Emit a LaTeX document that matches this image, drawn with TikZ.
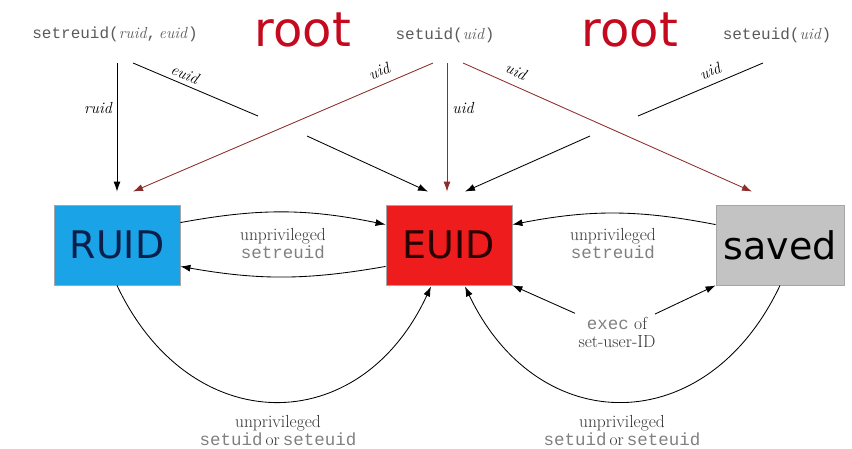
\documentclass[tikz,border=0pt]{standalone}
\usepackage{fontspec}
\setmonofont{Liberation Mono}
\newfontfamily\boxfont{DejaVu Sans}
\definecolor{ruidBlue}{HTML}{1AA3E6}
\definecolor{euidRed}{HTML}{EE1C1C}
\definecolor{savedGray}{HTML}{C3C3C3}
\definecolor{rootRed}{HTML}{C5091E}
\definecolor{uidLine}{HTML}{8E2B2B}
\definecolor{callGray}{HTML}{5A5A5A}
\definecolor{noteGray}{HTML}{333333}
\usetikzlibrary{arrows.meta,calc}

\begin{document}
\begin{tikzpicture}[x=1pt, y=-1pt, line width=0.85pt,
    idbox/.style={draw=gray!70, minimum width=126pt, minimum height=80pt, inner sep=0pt,
      font=\boxfont\fontsize{38}{40}\selectfont},
    rootlbl/.style={text=rootRed, font=\boxfont\fontsize{48}{50}\selectfont},
    call/.style={text=callGray, font=\fontsize{16}{18}\selectfont\ttfamily},
    lbl/.style={inner sep=1pt, font=\fontsize{16}{18}\selectfont\itshape},
    note/.style={align=center, text=noteGray, font=\fontsize{17.5}{21}\selectfont},
    arr/.style={-{Latex[length=10pt,width=7pt]}},
    rootarr/.style={arr, draw=uidLine}]
  \useasboundingbox (0,0) rectangle (852,448);
  % the three IDs
  \node[idbox, fill=ruidBlue, text={rgb,255:red,11;green,31;blue,74}] (ruid) at (117,245) {RUID};
  \node[idbox, fill=euidRed, text={rgb,255:red,40;green,0;blue,0}] (euid) at (449,245) {EUID};
  \node[idbox, fill=savedGray, minimum width=128pt] (saved) at (780,245) {saved};
  % calls along the top
  \node[call] (setreuid) at (115,34) {setreuid(\textrm{\itshape ruid},\,\textrm{\itshape euid})};
  \node[rootlbl] (rootA) at (303,30) {root};
  \node[call] (setuid) at (445,35) {setuid(\textrm{\itshape uid})};
  \node[rootlbl] (rootB) at (630,30) {root};
  \node[call] (seteuid) at (777,35) {seteuid(\textrm{\itshape uid})};
  % free ends under the calls
  \coordinate (sr-r) at (117,63);
  \coordinate (sr-e) at (133,63);
  \coordinate (sr-gapA) at (258,116);
  \coordinate (sr-gapB) at (307,136);
  \coordinate (su-l) at (433,63);
  \coordinate (su-m) at (447,63);
  \coordinate (su-r) at (463,63);
  \coordinate (se-u) at (763,63);
  \coordinate (se-gapA) at (638,116);
  \coordinate (se-gapB) at (590,136);
  % setreuid
  \draw[arr] (sr-r) -- ($(ruid.north)+(0,-13)$);
  \node[lbl] (ruid-lbl) at (98,108) {ruid};
  \draw (sr-e) -- (sr-gapA);
  \node[lbl, rotate=-23] (euid-lbl) at (185,74) {euid};
  \draw[arr] (sr-gapB) -- ($(euid.north)+(-21,-13)$);
  % setuid as root
  \draw[rootarr] (su-l) -- ($(ruid.north)+(16,-13)$);
  \node[lbl, rotate=23] (uid-a) at (379,71) {uid};
  \draw[rootarr] (su-m) -- ($(euid.north)+(-2,-13)$);
  \node[lbl] (uid-b) at (463,108) {uid};
  \draw[rootarr] (su-r) -- ($(saved.north)+(-28,-13)$);
  \node[lbl, rotate=-24] (uid-c) at (516,71) {uid};
  % seteuid
  \draw (se-u) -- (se-gapA);
  \node[lbl, rotate=23] (uid-d) at (710,71) {uid};
  \draw[arr] (se-gapB) -- ($(euid.north)+(16,-13)$);
  % unprivileged setreuid
  \draw[arr] ($(ruid.north east)+(0,18)$) to[bend left=11] ($(euid.north west)+(0,20)$);
  \draw[arr] ($(euid.south west)+(0,-19)$) to[bend left=10] ($(ruid.south east)+(0,-19)$);
  \node[note] (ru-eu) at (283,244) {unprivileged\\[-3pt]{\color{gray}\ttfamily setreuid}};
  \draw[arr] ($(saved.north west)+(0,20)$) to[bend right=11] ($(euid.north east)+(0,20)$);
  \node[note] (sv-eu) at (613,244) {unprivileged\\[-3pt]{\color{gray}\ttfamily setreuid}};
  % exec of a set-user-ID program
  \node[note] (exec) at (617,332) {{\color{gray}\ttfamily exec} of\\[-3pt]set-user-ID};
  \draw[arr, shorten <=46pt] (exec.center) -- (euid.south east);
  \draw[arr, shorten <=42pt] (exec.center) -- (saved.south west);
  % unprivileged setuid / seteuid
  \draw[arr] (ruid.south) .. controls (190,440) and (360,440) .. ($(euid.south)+(-18,1)$);
  \node[note] (ru-low) at (278,431) {unprivileged\\[-3pt]{\color{gray}\ttfamily setuid}\,or\,{\color{gray}\ttfamily seteuid}};
  \draw[arr] (saved.south) .. controls (707,440) and (538,440) .. ($(euid.south)+(16,1)$);
  \node[note] (sv-low) at (622,431) {unprivileged\\[-3pt]{\color{gray}\ttfamily setuid}\,or\,{\color{gray}\ttfamily seteuid}};
\end{tikzpicture}
\end{document}
